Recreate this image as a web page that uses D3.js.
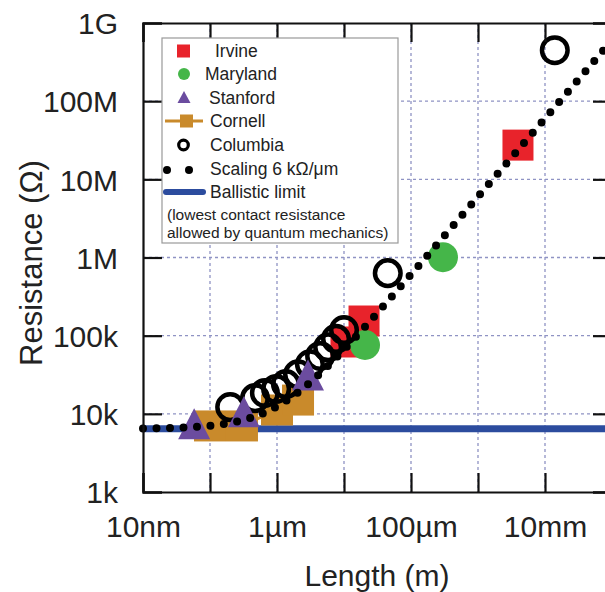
<!DOCTYPE html>
<html>
<head>
<meta charset="utf-8">
<script src="https://cdn.jsdelivr.net/npm/d3@7"></script>
<style>
  html, body { margin: 0; padding: 0; background: #fff; }
  svg { display: block; }
  text { font-family: "Liberation Sans", Arial, Helvetica, sans-serif; fill: #222; }
</style>
</head>
<body>
<svg id="chart" width="605" height="592"></svg>
<script>
// ---------- data (length in metres, resistance in ohms) ----------
const irvineL   = [19.9e-6, 10.7e-6, 3.95e-3];
const irvineR   = [154e3, 83e3, 27.4e6];
const marylandL = [20.6e-6, 300e-6];
const marylandR = [76e3, 1.01e6];
const stanfordL = [58e-9, 0.32e-6, 2.9e-6];
const stanfordR = [6.4e3, 9.1e3, 27e3];
const cornellL  = [100e-9, 0.3e-6, 1.0e-6, 2.06e-6];
const cornellR  = [7.0e3, 7.0e3, 11.2e3, 15e3];
const columbiaL = [0.2e-6, 0.47e-6, 0.66e-6, 0.97e-6, 1.36e-6, 2.06e-6, 3.1e-6, 4.4e-6, 5.8e-6, 7.6e-6, 10e-6, 45e-6, 14e-3];
const columbiaR = [12.2e3, 15.9e3, 18.5e3, 20.8e3, 24e3, 32e3, 43e3, 55e3, 71e3, 91e3, 118e3, 631e3, 449e6];
const ballisticR = 6450;            // h/4e^2
const scalingOhmPerUm = 6000;       // 6 kOhm / um
const xTickValues = [1e-8, 1e-7, 1e-6, 1e-5, 1e-4, 1e-3, 1e-2, 1e-1];
const xTickLabels = ["10nm", "", "1µm", "", "100µm", "", "10mm", ""];
const yTickValues = [1e3, 1e4, 1e5, 1e6, 1e7, 1e8, 1e9];
const yTickLabels = ["1k", "10k", "100k", "1M", "10M", "100M", "1G"];
const legendNames = ["Irvine", "Maryland", "Stanford", "Cornell", "Columbia", "Scaling 6 kΩ/μm", "Ballistic limit"];

const C = { red: "#E8232B", green: "#45B649", purple: "#6B4C9F", orange: "#C98A2B", blue: "#2C4C9E", grid: "#8f93c4" };

const svg = d3.select("#chart");
const pL = 143, pR = 612, pT = 23, pB = 492;
const x = d3.scaleLog().domain([1e-8, 1e-1]).range([pL, pR]);
const y = d3.scaleLog().domain([1e3, 1e9]).range([pB, pT]);

const zip = (a, b) => a.map((v, i) => [v, b[i]]);

// grid
const grid = svg.append("g");
grid.selectAll("line.v").data(xTickValues.slice(1)).join("line")
  .attr("x1", d => x(d)).attr("x2", d => x(d)).attr("y1", pT).attr("y2", pB)
  .attr("stroke", C.grid).attr("stroke-width", 1.3).attr("stroke-dasharray", "3,3");
grid.selectAll("line.h").data(yTickValues.slice(1, -1)).join("line")
  .attr("y1", d => y(d)).attr("y2", d => y(d)).attr("x1", pL).attr("x2", pR)
  .attr("stroke", C.grid).attr("stroke-width", 1.3).attr("stroke-dasharray", "3,3");

// ballistic limit
svg.append("line").attr("x1", x(1e-8)).attr("x2", x(1e-1))
  .attr("y1", y(ballisticR)).attr("y2", y(ballisticR))
  .attr("stroke", C.blue).attr("stroke-width", 7);

// Cornell
const cornell = zip(cornellL, cornellR);
svg.append("path").datum(cornell)
  .attr("d", d3.line().x(d => x(d[0])).y(d => y(d[1])))
  .attr("fill", "none").attr("stroke", C.orange).attr("stroke-width", 3);
svg.selectAll("rect.cornell").data(cornell).join("rect")
  .attr("x", d => x(d[0]) - 16).attr("y", d => y(d[1]) - 15.5)
  .attr("width", 32).attr("height", 31).attr("fill", C.orange);

// Irvine
svg.selectAll("rect.irvine").data(zip(irvineL, irvineR)).join("rect")
  .attr("x", d => x(d[0]) - 15.5).attr("y", d => y(d[1]) - 15.5)
  .attr("width", 31).attr("height", 31).attr("fill", C.red);

// Maryland
svg.selectAll("circle.maryland").data(zip(marylandL, marylandR)).join("circle")
  .attr("cx", d => x(d[0])).attr("cy", d => y(d[1])).attr("r", 15).attr("fill", C.green);

// Columbia
svg.selectAll("circle.columbia").data(zip(columbiaL, columbiaR)).join("circle")
  .attr("cx", d => x(d[0])).attr("cy", d => y(d[1])).attr("r", 12.8)
  .attr("fill", "none").attr("stroke", "#000").attr("stroke-width", 4.5);

// Stanford
const tri = (w, h) => `M0,${-2*h/3}L${w/2},${h/3}L${-w/2},${h/3}Z`;
svg.selectAll("path.stanford").data(zip(stanfordL, stanfordR)).join("path")
  .attr("transform", d => `translate(${x(d[0])},${y(d[1])})`)
  .attr("d", tri(32, 31)).attr("fill", C.purple);

// Scaling line (model: R = ballistic + 6 kOhm/um * length)
const scaleSamples = d3.range(0, 701).map(i => {
  const len = Math.pow(10, -8 + i / 100);
  return [len, ballisticR + scalingOhmPerUm * len * 1e6];
});
svg.append("path").datum(scaleSamples)
  .attr("d", d3.line().x(d => x(d[0])).y(d => y(d[1])))
  .attr("fill", "none").attr("stroke", "#000").attr("stroke-width", 8)
  .attr("stroke-linecap", "round").attr("stroke-dasharray", "0,13.5");

// axes
const axisG = svg.append("g");
const fmtX = d => xTickLabels[xTickValues.indexOf(d)];
const fmtY = d => yTickLabels[yTickValues.indexOf(d)];
const axB = axisG.append("g").attr("transform", `translate(0,${pB})`)
  .call(d3.axisBottom(x).tickValues(xTickValues).tickFormat(fmtX).tickSize(-19).tickPadding(24));
const axT = axisG.append("g").attr("transform", `translate(0,${pT})`)
  .call(d3.axisTop(x).tickValues(xTickValues).tickFormat("").tickSize(-19));
const axL = axisG.append("g").attr("transform", `translate(${pL},0)`)
  .call(d3.axisLeft(y).tickValues(yTickValues).tickFormat(fmtY).tickSize(-19).tickPadding(25));
const axR = axisG.append("g").attr("transform", `translate(${pR},0)`)
  .call(d3.axisRight(y).tickValues(yTickValues).tickFormat("").tickSize(-19));
axisG.selectAll(".domain").attr("stroke", "#111").attr("stroke-width", 2.2);
axisG.selectAll(".tick line").attr("stroke", "#111").attr("stroke-width", 2.2);
axisG.selectAll(".tick text").attr("font-size", 30).attr("fill", "#222")
  .attr("font-family", '"Liberation Sans", Arial, sans-serif');
axL.selectAll(".tick text").attr("dy", "0.36em");

// axis titles
svg.append("text").attr("x", 377).attr("y", 586).attr("text-anchor", "middle")
  .attr("font-size", 30).text("Length (m)");
svg.append("text").attr("transform", "translate(42,263) rotate(-90)").attr("text-anchor", "middle")
  .attr("font-size", 31).text("Resistance (Ω)");

// legend
const lg = svg.append("g");
lg.append("rect").attr("x", 162).attr("y", 38).attr("width", 236).attr("height", 205)
  .attr("fill", "#fff").attr("stroke", "#999").attr("stroke-width", 1.2);
const baselines = [57, 80, 104, 127, 151, 175, 198];
const textX = [215, 205, 209, 210, 210, 210, 210];
lg.selectAll("text.item").data(legendNames).join("text")
  .attr("x", (d, i) => textX[i]).attr("y", (d, i) => baselines[i])
  .attr("font-size", 17.5).text(d => d);
const cy = i => baselines[i] - 6;
lg.append("rect").attr("x", 177).attr("y", cy(0) - 6.5).attr("width", 13).attr("height", 13).attr("fill", C.red);
lg.append("circle").attr("cx", 184).attr("cy", cy(1)).attr("r", 6).attr("fill", C.green);
lg.append("path").attr("transform", `translate(184,${cy(2) + 1})`).attr("d", tri(13, 12)).attr("fill", C.purple);
lg.append("line").attr("x1", 165).attr("x2", 203).attr("y1", cy(3)).attr("y2", cy(3)).attr("stroke", C.orange).attr("stroke-width", 3);
lg.append("rect").attr("x", 180).attr("y", cy(3) - 6.5).attr("width", 13).attr("height", 13).attr("fill", C.orange);
lg.append("circle").attr("cx", 183.5).attr("cy", cy(4)).attr("r", 4.8).attr("fill", "none").attr("stroke", "#000").attr("stroke-width", 3.2);
lg.selectAll("circle.sd").data([167, 189]).join("circle").attr("cx", d => d).attr("cy", cy(5) + 1).attr("r", 4).attr("fill", "#000");
lg.append("line").attr("x1", 166).attr("x2", 203).attr("y1", cy(6)).attr("y2", cy(6)).attr("stroke", C.blue).attr("stroke-width", 6).attr("stroke-linecap", "round");
lg.append("text").attr("x", 167).attr("y", 220).attr("font-size", 15.5).text("(lowest contact resistance");
lg.append("text").attr("x", 167).attr("y", 238).attr("font-size", 15.5).text("allowed by quantum mechanics)");
</script>
</body>
</html>
